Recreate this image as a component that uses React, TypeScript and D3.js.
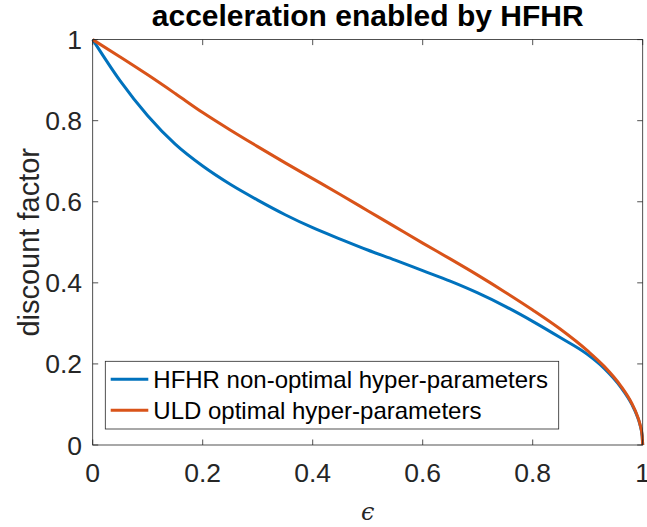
import React from "react";
import * as d3 from "d3";

const epsilon = [0, 0.05, 0.1, 0.15, 0.2, 0.25, 0.3, 0.35, 0.4, 0.45, 0.5, 0.55, 0.6, 0.65, 0.7, 0.75, 0.8, 0.85, 0.9, 0.93, 0.96, 0.98, 0.99, 0.995, 0.999, 1];
const hfhr = [1, 0.898, 0.812, 0.742, 0.688, 0.643, 0.604, 0.568, 0.536, 0.508, 0.481, 0.456, 0.43, 0.404, 0.375, 0.342, 0.305, 0.265, 0.223, 0.189, 0.143, 0.101, 0.071, 0.05, 0.022, 0];
const uld = [1, 0.957, 0.913, 0.867, 0.82, 0.777, 0.736, 0.696, 0.657, 0.618, 0.578, 0.538, 0.498, 0.459, 0.419, 0.377, 0.333, 0.286, 0.232, 0.194, 0.146, 0.103, 0.073, 0.0515, 0.023, 0];
const xTicks = [0, 0.2, 0.4, 0.6, 0.8, 1];
const yTicks = [0, 0.2, 0.4, 0.6, 0.8, 1];
const seriesNames = ["HFHR non-optimal hyper-parameters", "ULD optimal hyper-parameters"];
const seriesColors = ["#0072BD", "#D95319"];

const W = 647, H = 527;
const L = 92.7, R = 642.7, T = 39.6, B = 445;
const FONT = "'Liberation Sans', Arial, Helvetica, sans-serif";
const AX = "#262626";

export default function App() {
  const x = d3.scaleLinear().domain([0, 1]).range([L, R]);
  const y = d3.scaleLinear().domain([0, 1]).range([B, T]);
  const line = d3.line<number>().x((_, i) => x(epsilon[i])).y((d) => y(d)).curve(d3.curveMonotoneX);
  const series = [hfhr, uld];
  const tickLen = 5.5;
  return (
    <svg width={W} height={H} style={{ position: "absolute", left: 0, top: 0, background: "#fff" }} fontFamily={FONT}>
      <rect x={0} y={0} width={W} height={H} fill="#fff" />
      {series.map((s, k) => (
        <path key={k} d={line(s) || ""} fill="none" stroke={seriesColors[k]} strokeWidth={3} strokeLinejoin="round" />
      ))}
      <rect x={L} y={T} width={R - L} height={B - T} fill="none" stroke={AX} strokeWidth={0.8} />
      {xTicks.map((t) => (
        <g key={"x" + t}>
          <line x1={x(t)} x2={x(t)} y1={B} y2={B - tickLen} stroke={AX} strokeWidth={0.8} />
          <line x1={x(t)} x2={x(t)} y1={T} y2={T + tickLen} stroke={AX} strokeWidth={0.8} />
          <text x={x(t)} y={482} textAnchor="middle" fontSize={26.5} fill={AX}>{String(t)}</text>
        </g>
      ))}
      {yTicks.map((t) => (
        <g key={"y" + t}>
          <line x1={L} x2={L + tickLen} y1={y(t)} y2={y(t)} stroke={AX} strokeWidth={0.8} />
          <line x1={R} x2={R - tickLen} y1={y(t)} y2={y(t)} stroke={AX} strokeWidth={0.8} />
          <text x={82} y={y(t) + 9.5} textAnchor="end" fontSize={26.5} fill={AX}>{String(t)}</text>
        </g>
      ))}
      <text x={(L + R) / 2} y={26} textAnchor="middle" fontSize={30} fontWeight="bold" fill="#000">acceleration enabled by HFHR</text>
      <text transform={`translate(39,${(T + B) / 2}) rotate(-90)`} textAnchor="middle" fontSize={29} fill={AX}>discount factor</text>
      <text x={(L + R) / 2} y={520} textAnchor="middle" fontSize={24} fontStyle="italic" fontFamily="'DejaVu Serif', serif" fill={AX}>ϵ</text>
      <rect x={105.3} y={361.3} width={453.4} height={67.7} fill="#fff" stroke={AX} strokeWidth={0.8} />
      {seriesNames.map((n, k) => (
        <g key={n}>
          <line x1={110.7} x2={148.3} y1={379.3 + k * 31} y2={379.3 + k * 31} stroke={seriesColors[k]} strokeWidth={3} />
          <text x={153.3} y={379.3 + k * 31 + 8.5} fontSize={24} fill="#000">{n}</text>
        </g>
      ))}
    </svg>
  );
}
